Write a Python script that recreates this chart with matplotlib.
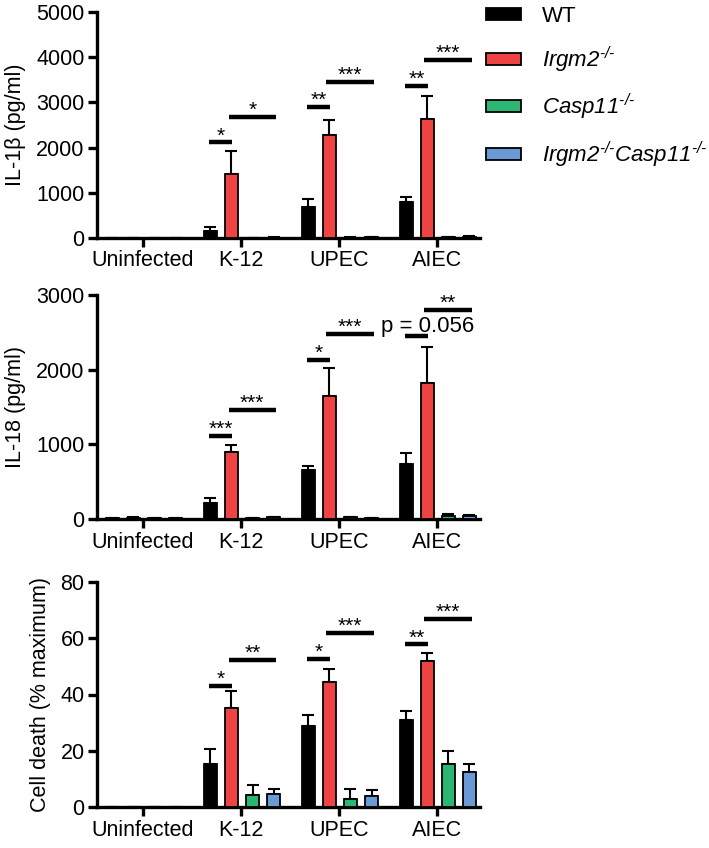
import matplotlib
matplotlib.use("Agg")
import matplotlib.pyplot as plt
import numpy as np
from matplotlib.patches import Patch

plt.rcParams['font.family'] = ['Liberation Sans', 'DejaVu Sans']
plt.rcParams['mathtext.fontset'] = 'custom'
plt.rcParams['mathtext.rm'] = 'Liberation Sans:italic'
plt.rcParams['mathtext.it'] = 'Liberation Sans:italic'

categories = ["Uninfected", "K-12", "UPEC", "AIEC"]
genotypes = ["WT", "$\\mathit{Irgm2}^{\u2010/\u2010}$", "$\\mathit{Casp11}^{\u2010/\u2010}$",
             "$\\mathit{Irgm2}^{\u2010/\u2010}\\mathit{Casp11}^{\u2010/\u2010}$"]
colors = ["#000000", "#EE4444", "#2BB673", "#6A9AD4"]

# IL-1beta (pg/ml): rows = genotype, cols = category
il1b_mean = [[0, 150, 680, 790],
             [0, 1420, 2280, 2640],
             [0, 5, 8, 20],
             [0, 10, 15, 30]]
il1b_err = [[0, 90, 190, 125],
            [0, 505, 330, 510],
            [0, 3, 4, 8],
            [0, 5, 6, 10]]

# IL-18 (pg/ml)
il18_mean = [[15, 220, 650, 740],
             [20, 895, 1645, 1820],
             [15, 15, 25, 40],
             [10, 25, 10, 40]]
il18_err = [[5, 60, 60, 140],
            [5, 95, 375, 485],
            [5, 5, 8, 30],
            [3, 6, 4, 20]]

# Cell death (% maximum)
death_mean = [[0, 15.2, 28.8, 30.8],
              [0, 35.2, 44.4, 51.8],
              [0, 4.3, 3.0, 15.3],
              [0, 4.5, 3.9, 12.6]]
death_err = [[0, 5.4, 3.9, 3.5],
             [0, 6.0, 4.7, 3.0],
             [0, 3.5, 3.3, 4.7],
             [0, 1.8, 2.0, 2.7]]

# significance annotations: (category index, kind, y, label)
il1b_sig = [(1, "short", 2117, "*"), (1, "long", 2683, "*"),
            (2, "short", 2898, "**"), (2, "long", 3458, "***"),
            (3, "short", 3370, "**"), (3, "long", 3938, "***")]
il18_sig = [(1, "short", 1116, "***"), (1, "long", 1460, "***"),
            (2, "short", 2134, "*"), (2, "long", 2478, "***"),
            (3, "short", 2455, ""), (3, "long", 2799, "**")]
death_sig = [(1, "short", 43.1, "*"), (1, "long", 52.3, "**"),
             (2, "short", 52.8, "*"), (2, "long", 61.9, "***"),
             (3, "short", 57.9, "**"), (3, "long", 67.0, "***")]
pvalue_text = "p = 0.056"
pvalue_pos = (2.91, 2504)

panels = [
    dict(mean=il1b_mean, err=il1b_err, sig=il1b_sig, ylim=5000,
         yticks=[0, 1000, 2000, 3000, 4000, 5000], ylabel="IL-1β (pg/ml)",
         px=(12, 238)),
    dict(mean=il18_mean, err=il18_err, sig=il18_sig, ylim=3000,
         yticks=[0, 1000, 2000, 3000], ylabel="IL-18 (pg/ml)",
         px=(295, 519)),
    dict(mean=death_mean, err=death_err, sig=death_sig, ylim=80,
         yticks=[0, 20, 40, 60, 80], ylabel="Cell death (% maximum)",
         px=(582, 807)),
]

W, H = 709, 848
fig = plt.figure(figsize=(W / 100, H / 100), dpi=100)

x = np.arange(len(categories))
bw = 0.135
step = 0.215
offsets = [(i - 1.5) * step + 0.01 for i in range(4)]
left_px, right_px = 97, 480
FS = 15.5

axes = []
for p in panels:
    top, bot = p["px"]
    ax = fig.add_axes([left_px / W, 1 - bot / H, (right_px - left_px) / W, (bot - top) / H])
    axes.append(ax)
    for g in range(4):
        m = np.array(p["mean"][g], dtype=float)
        e = np.array(p["err"][g], dtype=float)
        ax.bar(x + offsets[g], m, width=bw, color=colors[g], edgecolor="black",
               linewidth=1.3, zorder=3)
        ax.errorbar(x + offsets[g], m, yerr=[np.zeros_like(e), e], fmt="none",
                    ecolor="black", elinewidth=1.5, capsize=4, capthick=1.5, zorder=2)
    ax.set_xlim(-0.47, 3.44)
    ax.set_ylim(0, p["ylim"])
    ax.set_yticks(p["yticks"])
    ax.set_xticks(x)
    ax.set_xticklabels(categories)
    for s in ["top", "right"]:
        ax.spines[s].set_visible(False)
    for s in ["left", "bottom"]:
        ax.spines[s].set_linewidth(2.4)
    ax.tick_params(axis="both", width=2.4, length=6.5, labelsize=FS, pad=2.5)
    ax.set_ylabel(p["ylabel"], fontsize=FS, labelpad=7)
    for (ci, kind, yv, lab) in p["sig"]:
        if kind == "short":
            x0 = ci + offsets[0] - 0.01
            x1 = ci + offsets[1] + 0.005
        else:
            x0 = ci + offsets[1] - 0.03
            x1 = ci + offsets[3] + 0.025
        ax.plot([x0, x1], [yv, yv], color="black", linewidth=3.2,
                solid_capstyle="butt", clip_on=False, zorder=4)
        if lab:
            ax.annotate(lab, xy=((x0 + x1) / 2, yv), xytext=(0, 0.5),
                        textcoords="offset points", ha="center", va="baseline",
                        fontsize=15, annotation_clip=False)

# p-value annotation in IL-18 panel
axes[1].text(pvalue_pos[0], pvalue_pos[1], pvalue_text, ha="center", va="baseline",
             fontsize=16, zorder=5)

handles = [Patch(facecolor=c, edgecolor="black", linewidth=1.3) for c in colors]
fig.legend(handles, genotypes, loc="upper left", bbox_to_anchor=(486 / W, 1 - 6 / H),
           frameon=False, fontsize=16, handlelength=1.58, handleheight=0.45,
           labelspacing=0.78, handletextpad=0.95, borderpad=0, borderaxespad=0)

fig.savefig("out.png", dpi=100)
